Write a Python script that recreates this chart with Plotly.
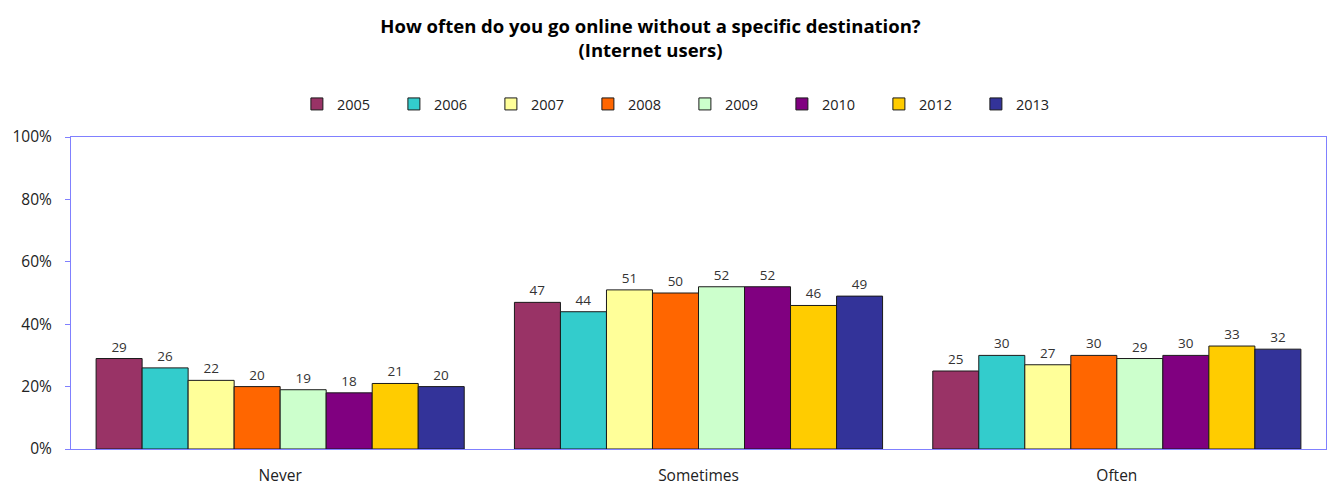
import plotly.graph_objects as go

categories = ["Never", "Sometimes", "Often"]
years = ["2005", "2006", "2007", "2008", "2009", "2010", "2012", "2013"]
values = {
    "2005": [29, 47, 25],
    "2006": [26, 44, 30],
    "2007": [22, 51, 27],
    "2008": [20, 50, 30],
    "2009": [19, 52, 29],
    "2010": [18, 52, 30],
    "2012": [21, 46, 33],
    "2013": [20, 49, 32],
}
colors = ["#993366", "#33CCCC", "#FFFF99", "#FF6600", "#CCFFCC", "#800080", "#FFCC00", "#333399"]
y_ticks = [0, 20, 40, 60, 80, 100]
y_ticklabels = ["0%", "20%", "40%", "60%", "80%", "100%"]

fig = go.Figure()
for yr, col in zip(years, colors):
    fig.add_trace(go.Bar(
        name=yr, x=categories, y=values[yr],
        marker=dict(color=col, line=dict(color="#1a1a1a", width=1)),
        text=values[yr], textposition="outside",
        textfont=dict(family="Open Sans, sans-serif", size=13.5, color="#333333"),
        cliponaxis=False,
    ))

fig.update_layout(
    width=1333, height=487,
    paper_bgcolor="white", plot_bgcolor="white",
    font=dict(family="Open Sans, sans-serif", color="#222222"),
    title=dict(
        text="<b>How often do you go online without a specific destination?<br>(Internet users)</b>",
        x=0.488, xanchor="center", xref="container",
        y=1 - 33 / 487, yanchor="top", yref="container",
        font=dict(family="Open Sans, sans-serif", size=18.5, color="#000000"),
    ),
    barmode="group", bargap=0.12, bargroupgap=0,
    margin=dict(l=71, r=7, t=137, b=38, autoexpand=False),
    legend=dict(
        orientation="h", x=0.18, xanchor="left",
        y=1 - 104 / 487, yanchor="middle", yref="container",
        font=dict(family="Open Sans, sans-serif", size=14.5, color="#222222"),
        entrywidth=52, entrywidthmode="pixels", itemwidth=30,
        traceorder="normal",
    ),
    showlegend=True,
)
fig.update_yaxes(
    range=[0, 100], tickvals=y_ticks, ticktext=y_ticklabels,
    showgrid=False, zeroline=False, automargin=False,
    showline=True, linecolor="#8080FF", linewidth=1, mirror=True,
    ticks="outside", ticklen=5, tickcolor="#8080FF", ticklabelstandoff=10,
    tickfont=dict(size=15.5, color="#222222"),
)
fig.update_xaxes(
    showline=True, linecolor="#8080FF", linewidth=1, mirror=True,
    showgrid=False, ticks="", automargin=False, ticklabelstandoff=12,
    tickfont=dict(size=15.5, color="#222222"),
)

fig.write_html(
    "out.html",
    config={"displayModeBar": False},
    post_script="document.body.style.margin='0';",
)
